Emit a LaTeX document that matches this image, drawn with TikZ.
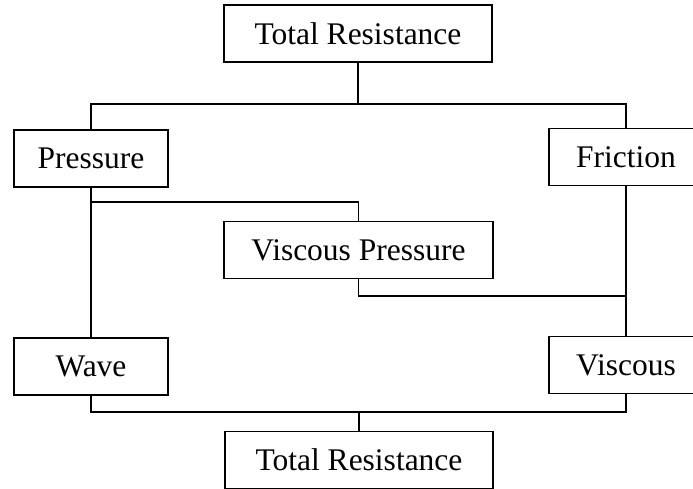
\documentclass[tikz,border=0pt]{standalone}
\usepackage{fontspec}
\setmainfont{Liberation Serif}
\usepackage{tikz}
\usetikzlibrary{calc}

\begin{document}
\begin{tikzpicture} [
            x=1pt, y=-1pt, line width=1.6pt,
            box/.style={draw, inner sep=0pt, font=\fontsize{31.5}{36}\selectfont},
            wide/.style={box, minimum width=268pt, minimum height=57pt},
            narrow/.style={box, minimum width=154pt, minimum height=57pt}
        ]
        \useasboundingbox (0,0) rectangle (693,488);
        \clip (0,0) rectangle (693,488);
        \node[wide] (totaltop) at (358,33.5) {Total Resistance};
        \node[narrow] (pressure) at (91,158.5) {Pressure};
        \node[narrow] (friction) at (626,157) {Friction};
        \node[wide, minimum width=269pt] (vpressure) at (358.5,250) {Viscous Pressure};
        \node[narrow] (wave) at (91,366.5) {Wave};
        \node[narrow] (viscous) at (626,365) {Viscous};
        \node[wide] (totalbot) at (359,460) {Total Resistance};
        % bus lines
        \coordinate (splittop) at (358,104);
        \coordinate (splitmid) at (91,202);
        \coordinate (joinmid) at (358,296);
        \coordinate (joinbot) at (359,412);
        \draw (totaltop.south) -- (splittop);
        \draw (pressure.north) -- (pressure.north |- splittop)
            -- (friction.north |- splittop) -- (friction.north);
        \draw (pressure.south) -- (wave.north);
        \draw (splitmid) -| (vpressure.north);
        \draw (friction.south) -- (viscous.north);
        \draw (vpressure.south) |- (viscous.north |- joinmid);
        \draw (wave.south) -- (wave.south |- joinbot)
            -- (viscous.south |- joinbot) -- (viscous.south);
        \draw (joinbot) -- (totalbot.north);
    \end{tikzpicture}
\end{document}
